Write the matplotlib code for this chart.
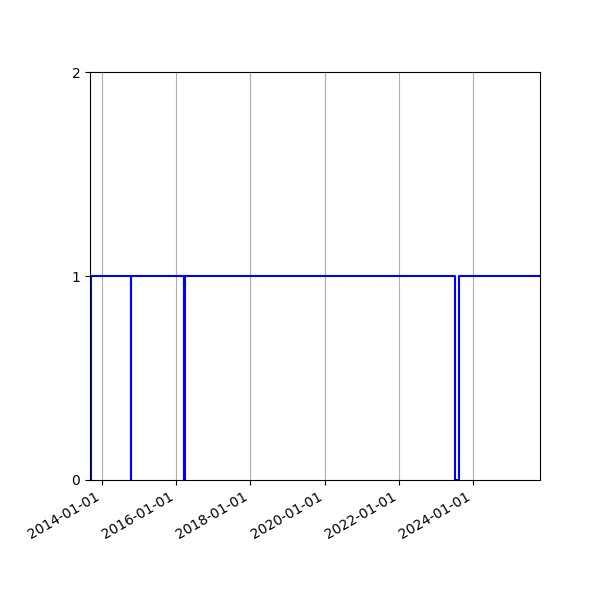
import matplotlib
matplotlib.use("Agg")
import matplotlib.pyplot as plt
import matplotlib.dates as mdates
import pandas as pd

dates = ["2013-09-08", "2013-09-18", "2014-10-16", "2014-10-17",
         "2016-03-22", "2016-03-28", "2023-07-03", "2023-08-11", "2025-10-20"]
values = [0, 1, 0, 1, 0, 1, 0, 1, 1]

x = pd.to_datetime(dates)

fig, ax = plt.subplots(figsize=(6, 6), dpi=100)
ax.plot(x, values, color="blue", linewidth=1.5, drawstyle="steps-post")
ax.set_xlim(x[0], x[-1])
ax.set_ylim(0, 2)
ax.set_yticks([0, 1, 2])
ax.xaxis.set_major_locator(mdates.YearLocator(2))
ax.xaxis.set_major_formatter(mdates.DateFormatter("%Y-%m-%d"))
ax.grid(axis="x")
fig.autofmt_xdate()
fig.subplots_adjust(left=0.15, right=0.9, top=0.88, bottom=0.2)
fig.savefig("out.png")
